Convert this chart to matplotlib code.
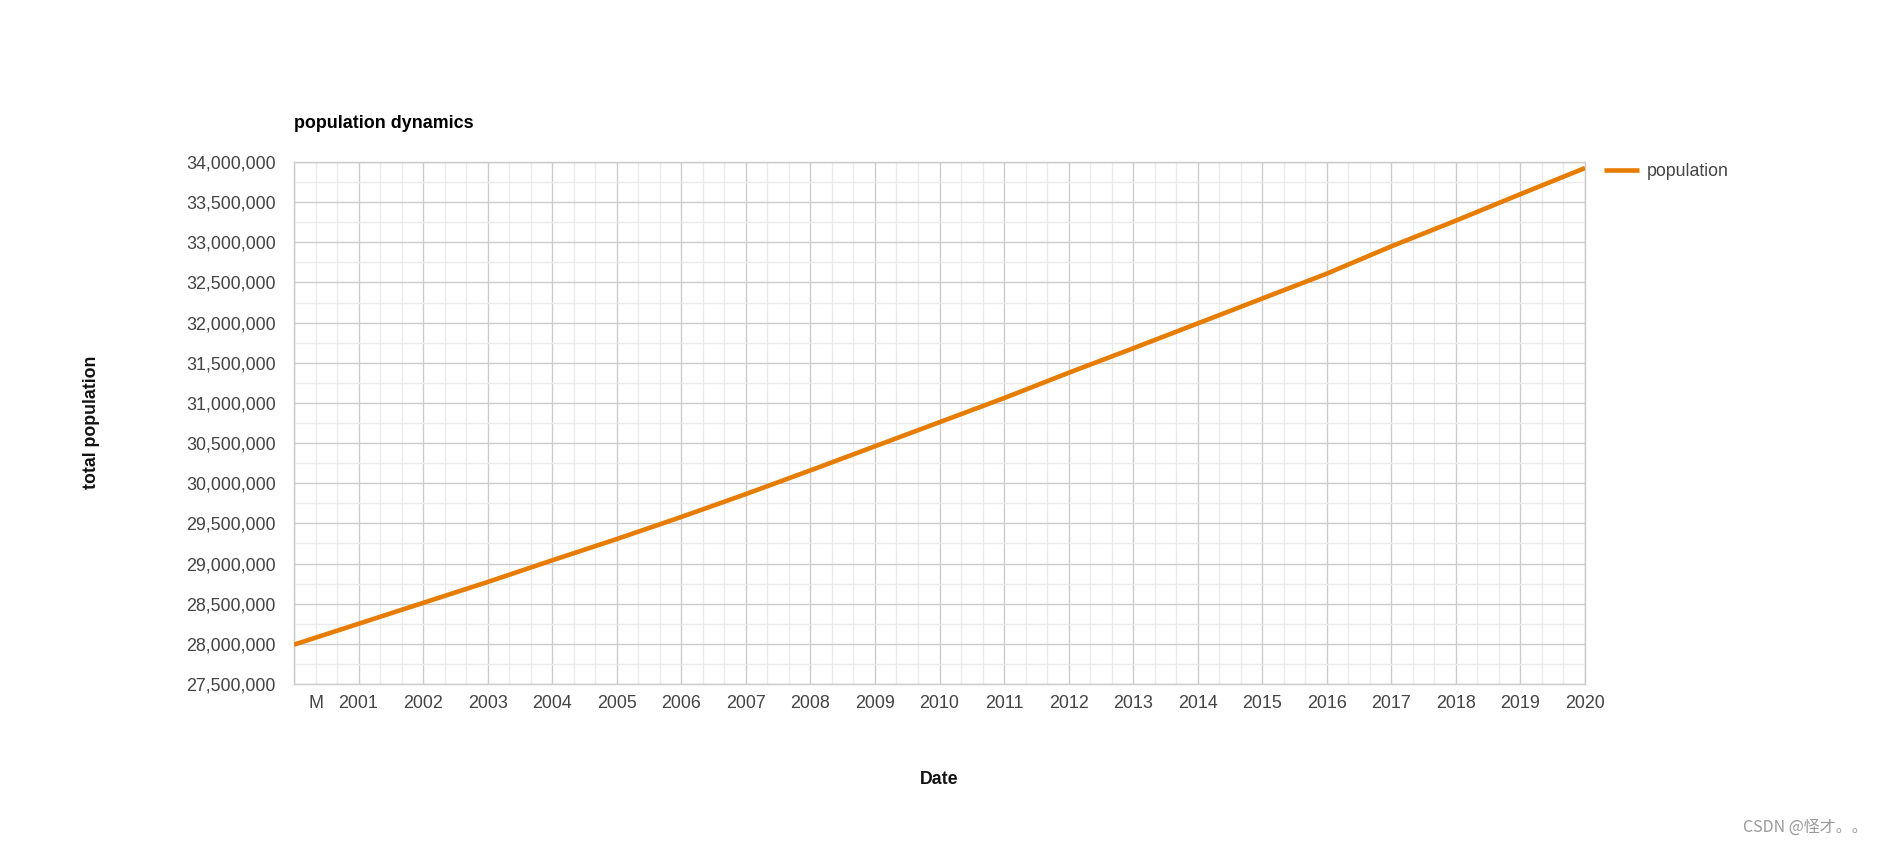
import matplotlib
matplotlib.use("Agg")
import matplotlib.pyplot as plt
from matplotlib.ticker import FixedLocator, FuncFormatter, MultipleLocator
import numpy as np

# ---- data ----
years = [2000, 2001, 2002, 2003, 2004, 2005, 2006, 2007, 2008, 2009, 2010,
         2011, 2012, 2013, 2014, 2015, 2016, 2017, 2018, 2019, 2020]
population = [27990000, 28250000, 28510000, 28770000, 29040000, 29305000, 29580000,
              29865000, 30160000, 30460000, 30760000, 31060000, 31375000, 31680000,
              31990000, 32300000, 32610000, 32950000, 33270000, 33600000, 33925000]
x_tick_values = [2000 + 1/3] + list(range(2001, 2021))
x_tick_labels = ["M"] + [str(y) for y in range(2001, 2021)]
y_ticks = list(range(27500000, 34000001, 500000))

title = "population dynamics"
x_label = "Date"
y_label = "total population"
series_name = "population"
watermark = "CSDN @怪才。。"

# ---- style ----
W, H = 1880, 847
fig = plt.figure(figsize=(W / 100, H / 100), dpi=100)
fig.patch.set_facecolor("white")
FONT = ["Liberation Sans", "DejaVu Sans"]
plt.rcParams["font.family"] = FONT

left, right, top, bottom = 294, 1585, 162, 684
ax = fig.add_axes([left / W, 1 - bottom / H, (right - left) / W, (bottom - top) / H])

line_color = "#e67c00"
ax.plot(years, population, color=line_color, lw=3.3, solid_capstyle="butt", zorder=3,
        label=series_name)

ax.set_xlim(2000, 2020)
ax.set_ylim(27500000, 34000000)

ax.yaxis.set_major_locator(FixedLocator(y_ticks))
ax.yaxis.set_minor_locator(MultipleLocator(250000))
ax.yaxis.set_major_formatter(FuncFormatter(lambda v, p: f"{int(round(v)):,}"))

ax.xaxis.set_major_locator(FixedLocator(list(range(2000, 2021))))
ax.xaxis.set_minor_locator(MultipleLocator(1 / 3))
ax.set_xticklabels([])

ax.grid(which="major", color="#cccccc", lw=1.0, zorder=1)
ax.grid(which="minor", color="#ebebeb", lw=1.0, zorder=0)
ax.set_axisbelow(True)
for s in ax.spines.values():
    s.set_color("#cccccc")
    s.set_linewidth(1.0)

ax.tick_params(axis="both", which="both", length=0)
ax.tick_params(axis="y", labelsize=12.9, labelcolor="#444444", pad=13)

# x tick labels drawn as texts at data x positions
for xv, lab in zip(x_tick_values, x_tick_labels):
    ax.text(xv, -0.037, lab, transform=ax.get_xaxis_transform(), ha="center", va="center",
            fontsize=12.9, color="#444444")

fig.text(left / W, 1 - 124 / H, title, fontsize=12.9, fontweight="bold", color="#000000",
         ha="left", va="center")
fig.text(939 / W, 1 - 779 / H, x_label, fontsize=12.8, fontweight="bold", color="#111111",
         ha="center", va="center")
fig.text(92 / W, 1 - 422 / H, y_label, fontsize=12.8, fontweight="bold", color="#111111",
         ha="center", va="center", rotation=90)

# legend
leg = ax.legend(loc="upper left", bbox_to_anchor=(1604 / W, 1 - 163 / H),
                bbox_transform=fig.transFigure, frameon=False, handlelength=1.95,
                handletextpad=0.45, borderpad=0, borderaxespad=0, prop={"size": 12.8})
for t in leg.get_texts():
    t.set_color("#444444")

fig.text(1868 / W, 1 - 827 / H, watermark, fontsize=11.5, color="#999999", ha="right",
         va="center", family=["Noto Sans CJK SC", "DejaVu Sans"])

fig.savefig("out.png", dpi=100, facecolor="white")
